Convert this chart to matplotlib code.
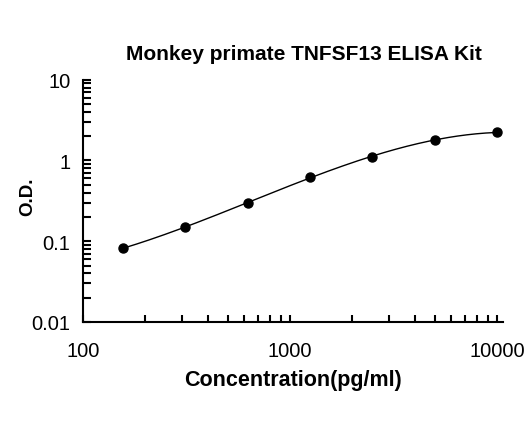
import numpy as np
import matplotlib
matplotlib.use("Agg")
import matplotlib.pyplot as plt
from matplotlib.ticker import LogLocator, FixedLocator, FixedFormatter, NullFormatter

# Standard curve data
concentration = [156.25, 312.5, 625, 1250, 2500, 5000, 10000]
od_values = [0.082, 0.150, 0.300, 0.620, 1.11, 1.81, 2.22]

title = "Monkey primate TNFSF13 ELISA Kit"
x_label = "Concentration(pg/ml)"
y_label = "O.D."
x_ticks = [100, 1000, 10000]
x_tick_labels = ["100", "1000", "10000"]
y_ticks = [0.01, 0.1, 1, 10]
y_tick_labels = ["0.01", "0.1", "1", "10"]

plt.rcParams["font.family"] = ["Liberation Sans", "DejaVu Sans"]

fig = plt.figure(figsize=(5.27, 4.31), dpi=100)
ax = fig.add_axes([83 / 527, 1 - 323 / 431, (503 - 83) / 527, (323 - 80.7) / 431])

# Smooth fitted curve in log-log space
lx = np.log10(concentration)
ly = np.log10(od_values)
coef = np.polyfit(lx, ly, 3)
xs = np.linspace(lx[0], lx[-1], 200)
ax.plot(10 ** xs, 10 ** np.polyval(coef, xs), color="black", lw=1.0)
ax.plot(concentration, od_values, "o", color="black", ms=6.5)

ax.set_xscale("log")
ax.set_yscale("log")
ax.set_xlim(100, 10 ** (4 + 6 / 207))
ax.set_ylim(0.01, 10)

ax.xaxis.set_major_locator(FixedLocator(x_ticks))
ax.xaxis.set_major_formatter(FixedFormatter(x_tick_labels))
ax.yaxis.set_major_locator(FixedLocator(y_ticks))
ax.yaxis.set_major_formatter(FixedFormatter(y_tick_labels))
ax.xaxis.set_minor_locator(LogLocator(base=10, subs=np.arange(2, 10)))
ax.yaxis.set_minor_locator(LogLocator(base=10, subs=np.arange(2, 10)))
ax.xaxis.set_minor_formatter(NullFormatter())
ax.yaxis.set_minor_formatter(NullFormatter())

ax.spines["top"].set_visible(False)
ax.spines["right"].set_visible(False)
for s in ("left", "bottom"):
    ax.spines[s].set_linewidth(1.5)

ax.tick_params(which="both", direction="in", width=1.5, length=6, labelsize=14.5,
               colors="black")
ax.tick_params(axis="x", which="both", length=5, pad=14)
ax.tick_params(axis="y", which="both", pad=9)

ax.set_title(title, fontsize=15, fontweight="bold", pad=15, x=0.526)
ax.set_xlabel(x_label, fontsize=15.5, fontweight="bold", labelpad=6)
ax.set_ylabel(y_label, fontsize=13.5, fontweight="bold")
ax.yaxis.set_label_coords(-0.112, 0.52)

fig.savefig("out.png", dpi=100)
